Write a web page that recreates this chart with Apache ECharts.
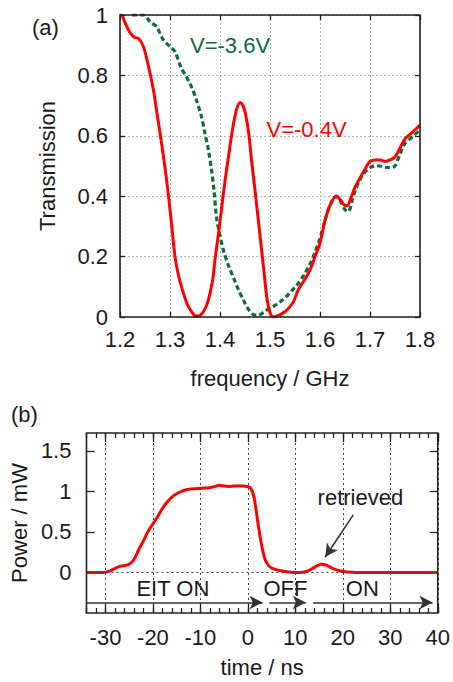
<!DOCTYPE html>
<html>
<head>
<meta charset="utf-8">
<script src="https://cdn.jsdelivr.net/npm/echarts@6/dist/echarts.min.js"></script>
<style>
html,body{margin:0;padding:0;background:#fff;}
#chart{width:453px;height:682px;}
</style>
</head>
<body>
<div id="chart"></div>
<script>
// ---- Panel (a): transmission spectra ----
const redFreq = [1.200,1.203,1.210,1.217,1.227,1.237,1.247,1.257,1.267,1.273,1.280,1.287,1.292,1.297,1.303,1.310,1.318,1.327,1.335,1.343,1.350,1.356,1.362,1.367,1.374,1.380,1.386,1.390,1.397,1.404,1.410,1.416,1.424,1.432,1.440,1.446,1.452,1.458,1.463,1.470,1.476,1.482,1.488,1.494,1.500,1.506,1.515,1.525,1.535,1.547,1.555,1.562,1.570,1.580,1.590,1.600,1.610,1.620,1.632,1.640,1.648,1.654,1.662,1.670,1.680,1.690,1.700,1.710,1.720,1.730,1.740,1.750,1.760,1.770,1.780,1.790,1.800];
const redT = [1.00,1.00,0.975,0.95,0.928,0.922,0.895,0.83,0.75,0.685,0.61,0.53,0.47,0.40,0.31,0.20,0.13,0.078,0.04,0.018,0.004,0.003,0.008,0.018,0.042,0.078,0.13,0.19,0.277,0.37,0.45,0.52,0.61,0.68,0.71,0.70,0.665,0.60,0.52,0.42,0.33,0.24,0.15,0.06,0.015,0.0,0.004,0.012,0.025,0.05,0.085,0.105,0.125,0.155,0.20,0.245,0.32,0.37,0.40,0.39,0.372,0.368,0.395,0.43,0.46,0.49,0.515,0.52,0.52,0.515,0.52,0.53,0.56,0.59,0.605,0.62,0.635];
const greenFreq = [1.224,1.247,1.260,1.273,1.287,1.300,1.310,1.323,1.333,1.343,1.353,1.363,1.370,1.377,1.383,1.388,1.393,1.400,1.407,1.417,1.427,1.437,1.447,1.457,1.467,1.477,1.487,1.497,1.507,1.520,1.533,1.545,1.556,1.568,1.580,1.590,1.600,1.610,1.620,1.633,1.642,1.650,1.657,1.665,1.672,1.680,1.690,1.700,1.710,1.720,1.730,1.740,1.750,1.760,1.770,1.780,1.790,1.800];
const greenT = [1.00,1.00,0.978,0.961,0.917,0.895,0.878,0.823,0.795,0.762,0.718,0.663,0.607,0.552,0.487,0.42,0.33,0.27,0.22,0.17,0.13,0.09,0.055,0.025,0.008,0.006,0.015,0.027,0.035,0.05,0.068,0.09,0.11,0.14,0.175,0.215,0.26,0.32,0.37,0.40,0.38,0.355,0.35,0.39,0.425,0.455,0.48,0.495,0.50,0.50,0.495,0.495,0.50,0.54,0.575,0.59,0.605,0.618];
const freqTicks = [1.2,1.3,1.4,1.5,1.6,1.7,1.8];
const transTicks = [0,0.2,0.4,0.6,0.8,1];

// ---- Panel (b): retrieved pulse ----
const timeNs = [-34,-30.5,-29,-28,-27,-26,-25,-24,-23,-22,-21,-20,-19,-18,-17,-16,-15,-14,-13,-12,-10,-8,-7,-6,-5,-4,-3,-2,-1,0,0.6,1.2,1.7,2.2,2.7,3.2,3.7,4.3,5,6,7,8.5,10,11.5,12.5,13.5,14.5,15.5,16.5,17.5,18.5,19.5,21,23,40];
const powerMw = [0,0,0.02,0.05,0.075,0.085,0.1,0.16,0.28,0.39,0.51,0.60,0.69,0.79,0.87,0.93,0.97,1.0,1.02,1.03,1.04,1.045,1.06,1.075,1.065,1.06,1.065,1.07,1.065,1.06,1.04,0.95,0.78,0.58,0.40,0.25,0.15,0.09,0.055,0.035,0.02,0.005,0,0.003,0.015,0.045,0.08,0.1,0.09,0.06,0.035,0.018,0.006,0,0];
const timeTicks = [-30,-20,-10,0,10,20,30,40];
const powerTicks = [0,0.5,1,1.5];
const timeMinorTicks = [];
for (let t = -34; t <= 40; t += 2) timeMinorTicks.push(t);

// phase arrows [start, end] in ns and their labels
const phaseArrows = [[-34,3.1],[4.5,12.2],[13.7,38.9]];
const phaseLabels = [['EIT ON',-15.8],['OFF',7.9],['ON',24.1]];
const arrowLevel = -0.37, phaseTextLevel = -0.2;
const retrievedText = [23.7,0.92];
const retrievedArrow = [[22.2,0.71],[16.3,0.19]];
const labelA1 = ['V=-3.6V',1.42,0.90];
const labelA2 = ['V=-0.4V',1.573,0.62];

const FONT = "'Liberation Sans', Arial, Helvetica, sans-serif";
const TXT = '#1a1a1a';
const RED = '#ff0000';
const GREEN = '#0f6b3a';
const FS = 22;

function zip(a,b){return a.map((v,i)=>[v,b[i]]);}
function noLine(){return {show:false, onZero:false};}
function ticks(vals,len){return {show:true, inside:true, length:len, customValues:vals, lineStyle:{color:'#222', width:1.3}};}

const option = {
  animation:false,
  backgroundColor:'#fff',
  textStyle:{fontFamily:FONT},
  title:[
    {text:'(a)', left:27, top:11, textStyle:{fontSize:FS, fontWeight:'normal', color:TXT}},
    {text:'(b)', left:6, top:398, textStyle:{fontSize:FS, fontWeight:'normal', color:TXT}}
  ],
  grid:[
    {left:120, top:15, width:300, height:302, show:true, borderColor:'#222', borderWidth:1.6, backgroundColor:'transparent', z:5},
    {left:82, top:433, width:361, height:180, show:true, borderColor:'#222', borderWidth:1.6, backgroundColor:'transparent', z:5}
  ],
  xAxis:[
    {gridIndex:0, type:'value', position:'bottom', min:1.2, max:1.8, axisLine:noLine(), axisTick:ticks(freqTicks,5),
     axisLabel:{customValues:freqTicks, margin:11, fontSize:FS, color:TXT},
     splitLine:{show:true, lineStyle:{type:[2,2], color:'#b5b5b5', width:1}},
     name:'frequency / GHz', nameLocation:'middle', nameGap:50, nameTextStyle:{fontSize:FS, color:TXT}},
    {gridIndex:0, type:'value', position:'top', min:1.2, max:1.8, axisLine:noLine(), axisTick:ticks(freqTicks,5),
     axisLabel:{show:false}, splitLine:{show:false}},
    {gridIndex:1, type:'value', position:'bottom', min:-34, max:40, axisLine:noLine(), axisTick:ticks(timeTicks,9),
     axisLabel:{customValues:timeTicks, margin:13, fontSize:FS, color:TXT},
     splitLine:{show:true, lineStyle:{type:[2,3], color:'#444', width:1}},
     name:'time / ns', nameLocation:'middle', nameGap:43, nameTextStyle:{fontSize:FS, color:TXT}},
    {gridIndex:1, type:'value', position:'top', min:-34, max:40, axisLine:noLine(), axisTick:ticks(timeTicks,9),
     axisLabel:{show:false}, splitLine:{show:false}},
    {gridIndex:1, type:'value', position:'bottom', min:-34, max:40, axisLine:noLine(), axisTick:ticks(timeMinorTicks,5),
     axisLabel:{show:false}, splitLine:{show:false}},
    {gridIndex:1, type:'value', position:'top', min:-34, max:40, axisLine:noLine(), axisTick:ticks(timeMinorTicks,5),
     axisLabel:{show:false}, splitLine:{show:false}}
  ],
  yAxis:[
    {gridIndex:0, type:'value', position:'left', min:0, max:1, axisLine:noLine(), axisTick:ticks(transTicks,5),
     axisLabel:{customValues:transTicks, margin:12, fontSize:FS, color:TXT},
     splitLine:{show:true, lineStyle:{type:[2,2], color:'#b5b5b5', width:1}},
     name:'Transmission', nameLocation:'middle', nameGap:62, nameRotate:90, nameTextStyle:{fontSize:FS, color:TXT}},
    {gridIndex:0, type:'value', position:'right', min:0, max:1, axisLine:noLine(), axisTick:ticks(transTicks,5),
     axisLabel:{show:false}, splitLine:{show:false}},
    {gridIndex:1, type:'value', position:'left', min:-0.5, max:1.72, axisLine:noLine(), axisTick:ticks(powerTicks,8),
     axisLabel:{customValues:powerTicks, margin:15, fontSize:FS, color:TXT}, splitLine:{show:false},
     name:'Power / mW', nameLocation:'middle', nameGap:50, nameRotate:90, nameTextStyle:{fontSize:FS, color:TXT}},
    {gridIndex:1, type:'value', position:'right', min:-0.5, max:1.72, axisLine:noLine(), axisTick:ticks(powerTicks,8),
     axisLabel:{show:false}, splitLine:{show:false}}
  ],
  series:[
    {type:'line', xAxisIndex:0, yAxisIndex:0, data:zip(greenFreq, greenT), showSymbol:false, smooth:0.3,
     lineStyle:{color:GREEN, width:3.2, type:[5,3]}, z:3,
     markPoint:{symbol:'circle', symbolSize:0, silent:true,
       label:{show:true, position:'inside', fontSize:FS, color:GREEN},
       data:[{coord:[labelA1[1],labelA1[2]], value:labelA1[0], label:{formatter:labelA1[0]}}]}},
    {type:'line', xAxisIndex:0, yAxisIndex:0, data:zip(redFreq, redT), showSymbol:false, smooth:0.3,
     lineStyle:{color:RED, width:3}, z:4,
     markPoint:{symbol:'circle', symbolSize:0, silent:true,
       label:{show:true, position:'inside', fontSize:FS, color:RED},
       data:[{coord:[labelA2[1],labelA2[2]], value:labelA2[0], label:{formatter:labelA2[0]}}]}},
    {type:'line', xAxisIndex:2, yAxisIndex:2, data:zip(timeNs, powerMw), showSymbol:false, smooth:0.3,
     lineStyle:{color:RED, width:3}, z:4,
     markLine:{silent:true, symbol:['none','none'], label:{show:false},
       lineStyle:{type:[2,3], color:'#444', width:1}, data:[{yAxis:0}]},
     markPoint:{symbol:'circle', symbolSize:0, silent:true,
       label:{show:true, position:'inside', fontSize:FS, color:TXT},
       data: phaseLabels.map(p=>({coord:[p[1],phaseTextLevel], value:p[0], label:{formatter:p[0]}}))
         .concat([{coord:retrievedText, value:'retrieved', label:{formatter:'retrieved'}}])}},
    {type:'line', xAxisIndex:2, yAxisIndex:2, data:[], showSymbol:false,
     markLine:{silent:true, symbol:['none','arrow'], symbolSize:[10,13], label:{show:false},
       lineStyle:{type:'solid', color:'#333', width:1.6},
       data: phaseArrows.map(a=>[{coord:[a[0],arrowLevel]},{coord:[a[1],arrowLevel]}])
         .concat([[{coord:retrievedArrow[0]},{coord:retrievedArrow[1]}]])}}
  ]
};

const chart = echarts.init(document.getElementById('chart'), null, {renderer:'svg'});
chart.setOption(option);
</script>
</body>
</html>
